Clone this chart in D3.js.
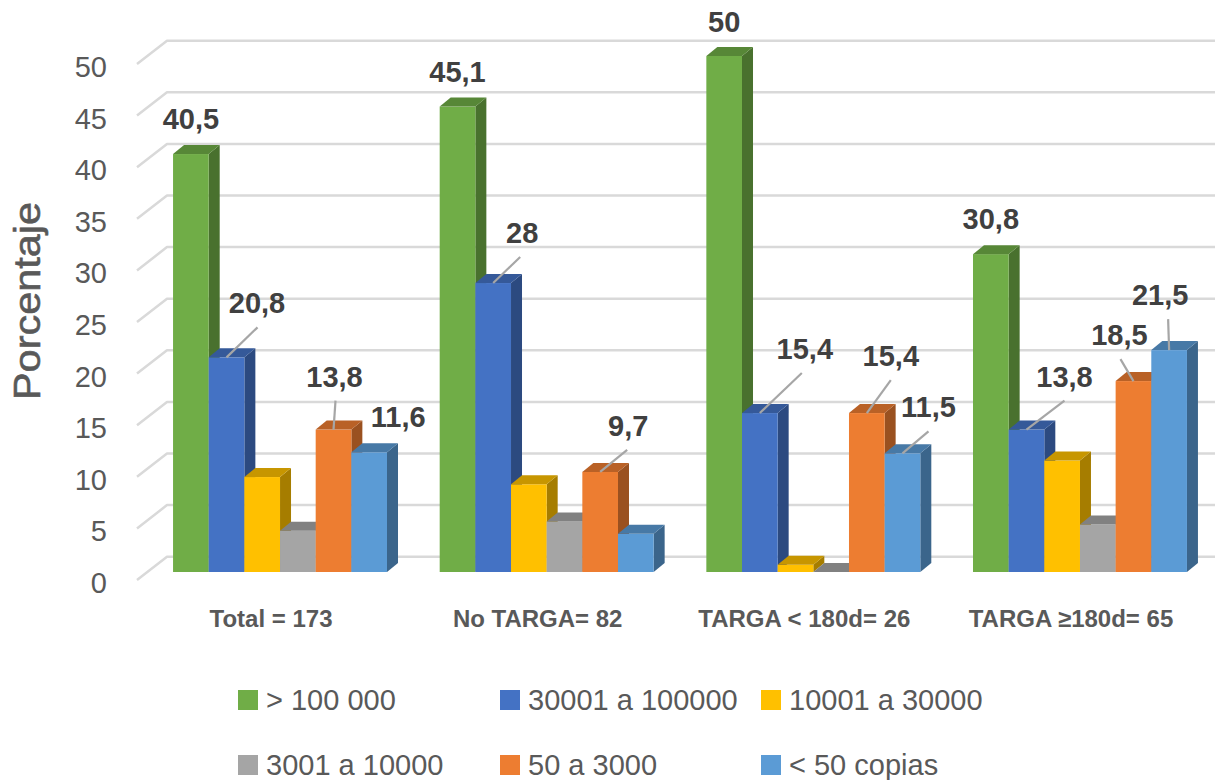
<!DOCTYPE html>
<html>
<head>
<meta charset="utf-8">
<script src="https://cdn.jsdelivr.net/npm/d3@7/dist/d3.min.js"></script>
<style>
  html, body { margin: 0; padding: 0; background: #ffffff; }
  svg { display: block; }
  text { font-family: "Liberation Sans", Arial, sans-serif; }
</style>
</head>
<body>
<svg id="chart" width="1225" height="780"></svg>
<script>
// Categories (x axis groups)
const categories = ["Total = 173", "No TARGA= 82", "TARGA < 180d= 26", "TARGA \u2265180d= 65"];

// Series names (legend order) and colours
const seriesNames = ["> 100 000", "30001 a 100000", "10001 a 30000", "3001 a 10000", "50 a 3000", "< 50 copias"];
const seriesColors = ["#70AD47", "#4472C4", "#FFC000", "#A5A5A5", "#ED7D31", "#5B9BD5"];

// Percentages per series, one value per category
const over100000 = [40.5, 45.1, 50, 30.8];
const from30001to100000 = [20.8, 28, 15.4, 13.8];
const from10001to30000 = [9.2, 8.5, 0.7, 10.8];
const from3001to10000 = [4.0, 4.9, 0, 4.6];
const from50to3000 = [13.8, 9.7, 15.4, 18.5];
const under50 = [11.6, 3.7, 11.5, 21.5];

const seriesValues = [over100000, from30001to100000, from10001to30000, from3001to10000, from50to3000, under50];

// Axis ticks
const yTicks = [0, 5, 10, 15, 20, 25, 30, 35, 40, 45, 50];
const yTitle = "Porcentaje";

// Data labels that are shown: key "category-series" -> text offset (dx, dy) and leader end dx
const labelPlacement = {
  "0-0": { dx: 0, dy: -25 },
  "0-1": { dx: 30.5, dy: -44, ldx: 31 },
  "0-4": { dx: 1, dy: -43, ldx: 2 },
  "0-5": { dx: 29, dy: -25 },
  "1-0": { dx: 0, dy: -25 },
  "1-1": { dx: 29, dy: -40, ldx: 27 },
  "1-4": { dx: 28, dy: -36, ldx: 27 },
  "2-0": { dx: 0, dy: -24 },
  "2-1": { dx: 45, dy: -54, ldx: 42 },
  "2-4": { dx: 24, dy: -47, ldx: 24 },
  "2-5": { dx: 26, dy: -36, ldx: 26 },
  "3-0": { dx: 0, dy: -25 },
  "3-1": { dx: 38, dy: -43, ldx: 38 },
  "3-4": { dx: -14, dy: -36, ldx: -13 },
  "3-5": { dx: -9, dy: -45, ldx: -1 }
};

const svg = d3.select("#chart");

// Scales: bars stand on the front plane, the wall grid has its own depth
const y = d3.scaleLinear().domain([0, 50]).range([572, 56]);
const wallFrontDy = 8, wallBackDy = -15.3;
const wallFrontX = 137, wallBackX = 167, wallRightX = 1215;

const x0 = d3.scaleBand().domain(categories).range([146.7, 1213.3])
  .paddingInner(0.1976).paddingOuter(0.0988);
const x1 = d3.scaleBand().domain(seriesNames).range([0, x0.bandwidth()]).padding(0);

// Bar depth projection
const depthX = 11, depthY = -9;

const fmt = v => String(v).replace(".", ",");

// Gridlines: side wall diagonal + back wall horizontal
const grid = svg.append("g").attr("stroke", "#d9d9d9").attr("stroke-width", 2.5).attr("fill", "none");
yTicks.forEach(t => {
  const yb = y(t) + wallBackDy;
  const yf = y(t) + wallFrontDy;
  grid.append("path")
    .attr("d", `M${wallFrontX},${yf}L${wallBackX},${yb}L${wallRightX},${yb}`)
    .attr("stroke-linejoin", "round");
});

// Y tick labels
svg.append("g").selectAll("text").data(yTicks).join("text")
  .attr("x", 107)
  .attr("y", d => y(d) + wallFrontDy + 3)
  .attr("text-anchor", "end")
  .attr("dominant-baseline", "central")
  .attr("font-size", 29)
  .attr("fill", "#595959")
  .text(d => d);

// Y axis title
svg.append("text")
  .attr("transform", "translate(40,301) rotate(-90)")
  .attr("text-anchor", "middle")
  .attr("font-size", 36)
  .attr("fill", "#595959")
  .attr("stroke", "#595959")
  .attr("stroke-width", 0.6)
  .attr("textLength", 198)
  .attr("lengthAdjust", "spacingAndGlyphs")
  .text(yTitle);

// Bars
const base = y(0);
const barsG = svg.append("g");
categories.forEach((cat, gi) => {
  seriesNames.forEach((s, si) => {
    const v = seriesValues[si][gi];
    const c = seriesColors[si];
    const xa = x0(cat) + x1(s);
    const xb = xa + x1.bandwidth();
    const yt = y(v);
    const g = barsG.append("g");
    // right side face
    g.append("path")
      .attr("d", `M${xb},${yt}L${xb + depthX},${yt + depthY}L${xb + depthX},${base + depthY}L${xb},${base}Z`)
      .attr("fill", d3.color(c).darker(1.2));
    // front face
    g.append("rect")
      .attr("x", xa).attr("y", yt)
      .attr("width", xb - xa).attr("height", base - yt)
      .attr("fill", c);
    // top face
    g.append("path")
      .attr("d", `M${xa},${yt}L${xb},${yt}L${xb + depthX},${yt + depthY}L${xa + depthX},${yt + depthY}Z`)
      .attr("fill", d3.color(c).darker(0.7));
  });
});

// Data labels with leader lines
const labelsG = svg.append("g");
categories.forEach((cat, gi) => {
  seriesNames.forEach((s, si) => {
    const p = labelPlacement[gi + "-" + si];
    if (!p) return;
    const v = seriesValues[si][gi];
    const cx = x0(cat) + x1(s) + x1.bandwidth() / 2;
    const yt = y(v);
    if (p.ldx !== undefined) {
      labelsG.append("line")
        .attr("x1", cx).attr("y1", yt)
        .attr("x2", cx + p.ldx).attr("y2", yt + p.dy + 14)
        .attr("stroke", "#a6a6a6").attr("stroke-width", 2.2);
    }
    labelsG.append("text")
      .attr("x", cx + p.dx)
      .attr("y", yt + p.dy)
      .attr("text-anchor", "middle")
      .attr("font-size", 29)
      .attr("font-weight", "bold")
      .attr("fill", "#404040")
      .text(fmt(v));
  });
});

// Category labels
svg.append("g").selectAll("text").data(categories).join("text")
  .attr("x", d => x0(d) + x0.bandwidth() / 2 - 9)
  .attr("y", 627)
  .attr("text-anchor", "middle")
  .attr("font-size", 24)
  .attr("font-weight", "bold")
  .attr("fill", "#595959")
  .text(d => d);

// Legend: two rows of three entries
const legendCols = [238, 500, 761];
const legendRows = [700, 765];
const legend = svg.append("g");
seriesNames.forEach((s, i) => {
  const lx = legendCols[i % 3];
  const ly = legendRows[Math.floor(i / 3)];
  legend.append("rect")
    .attr("x", lx).attr("y", ly - 10)
    .attr("width", 20).attr("height", 20)
    .attr("fill", seriesColors[i]);
  legend.append("text")
    .attr("x", lx + 28).attr("y", ly)
    .attr("dominant-baseline", "central")
    .attr("font-size", 29)
    .attr("fill", "#595959")
    .text(s);
});
</script>
</body>
</html>
